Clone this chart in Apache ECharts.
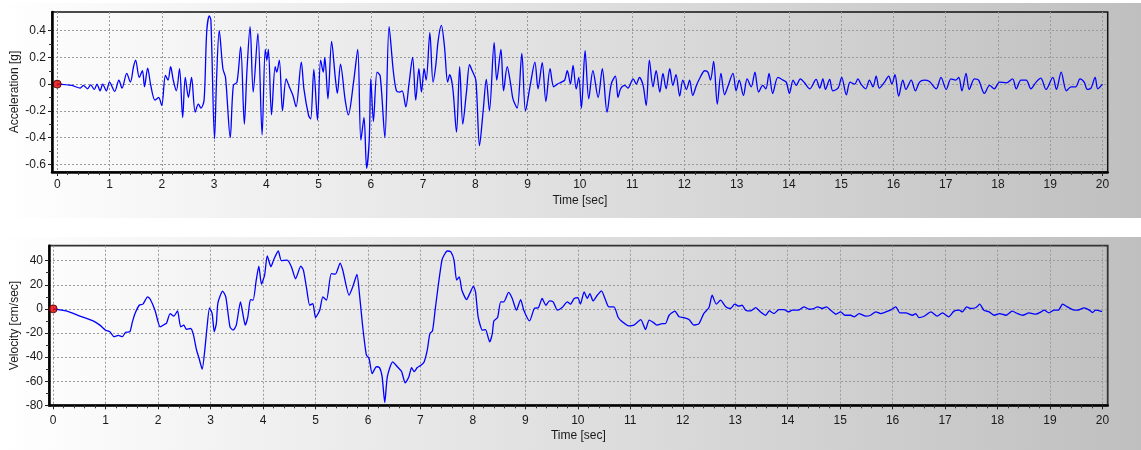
<!DOCTYPE html>
<html>
<head>
<meta charset="utf-8">
<script src="https://cdn.jsdelivr.net/npm/echarts@6/dist/echarts.min.js"></script>
<style>
html,body{margin:0;padding:0;background:#fff;}
#chart{width:1141px;height:450px;}
</style>
</head>
<body>
<div id="chart"></div>
<script>
// ---------- DATA ----------
const timeTicks = [0,1,2,3,4,5,6,7,8,9,10,11,12,13,14,15,16,17,18,19,20];
const accTicks = [-0.6,-0.4,-0.2,0,0.2,0.4];
const velTicks = [-80,-60,-40,-20,0,20,40];

const accTime = [0,0.28,0.44,0.50,0.58,0.64,0.71,0.76,0.82,0.87,0.94,1.00,1.10,1.18,1.24,1.33,1.40,1.46,1.50,1.57,1.63,1.67,1.73,1.79,1.87,1.94,2.00,2.07,2.12,2.17,2.22,2.28,2.34,2.40,2.45,2.51,2.57,2.64,2.70,2.75,2.81,2.86,2.91,2.94,3.01,3.05,3.10,3.17,3.22,3.31,3.37,3.44,3.51,3.58,3.63,3.69,3.75,3.84,3.92,3.98,4.01,4.04,4.10,4.17,4.20,4.25,4.31,4.38,4.44,4.51,4.57,4.67,4.72,4.81,4.85,4.91,4.98,5.04,5.09,5.12,5.18,5.25,5.32,5.36,5.42,5.51,5.57,5.67,5.75,5.81,5.87,5.92,5.97,6.00,6.05,6.12,6.18,6.27,6.35,6.43,6.49,6.55,6.60,6.67,6.73,6.80,6.86,6.92,6.97,7.02,7.06,7.13,7.19,7.24,7.29,7.35,7.41,7.47,7.51,7.57,7.64,7.70,7.76,7.83,7.89,7.94,8.01,8.08,8.15,8.21,8.27,8.36,8.41,8.49,8.54,8.61,8.68,8.72,8.80,8.89,8.96,9.05,9.14,9.20,9.28,9.35,9.43,9.50,9.57,9.65,9.71,9.76,9.82,9.87,9.93,9.98,10.03,10.10,10.17,10.25,10.35,10.43,10.52,10.60,10.68,10.73,10.78,10.86,10.92,11.02,11.08,11.14,11.21,11.27,11.33,11.40,11.46,11.53,11.59,11.65,11.72,11.78,11.84,11.91,11.97,12.04,12.10,12.16,12.23,12.29,12.39,12.45,12.50,12.56,12.63,12.70,12.77,12.83,12.93,12.99,13.05,13.13,13.20,13.28,13.35,13.42,13.50,13.56,13.62,13.69,13.79,13.89,13.95,14.01,14.08,14.14,14.22,14.30,14.40,14.52,14.59,14.65,14.70,14.78,14.84,14.94,15.01,15.10,15.17,15.26,15.32,15.38,15.47,15.54,15.61,15.67,15.73,15.83,15.91,15.97,16.03,16.10,16.18,16.24,16.34,16.42,16.50,16.59,16.69,16.82,16.91,17.01,17.10,17.19,17.25,17.31,17.39,17.45,17.55,17.63,17.74,17.84,17.93,18.03,18.16,18.28,18.35,18.44,18.54,18.63,18.73,18.82,18.92,19.05,19.12,19.21,19.31,19.40,19.49,19.57,19.65,19.71,19.78,19.86,19.91,20.0];
const accValue = [0,-0.01,-0.03,-0.01,-0.035,-0.005,-0.04,0.0,-0.05,0.0,-0.05,0.015,-0.055,0.03,-0.03,0.08,0.015,0.13,0.18,0.05,0.10,-0.02,0.12,-0.01,-0.12,-0.10,-0.16,0.065,0.03,0.13,0.03,-0.05,0.115,-0.25,0.05,-0.10,0.05,-0.21,-0.15,-0.18,-0.12,0.39,0.51,0.48,-0.41,0.05,0.40,0.115,0.05,-0.40,-0.01,0.015,0.28,-0.30,0.10,0.43,-0.06,0.38,-0.38,0.26,0.18,0.26,-0.23,0.13,0.09,0.18,-0.20,0.04,-0.02,-0.085,-0.17,0.165,-0.035,-0.235,-0.26,0.11,-0.27,0.18,0.09,0.20,-0.11,0.32,0.05,-0.07,0.15,-0.12,-0.23,0.015,0.26,-0.42,-0.25,-0.63,-0.42,0.04,-0.28,0.09,0.06,-0.40,0.43,0.10,-0.05,-0.06,-0.05,-0.17,0.0,0.20,-0.12,0.115,-0.06,0.115,0.03,0.385,0.015,0.13,0.33,0.44,0.28,0.015,0.07,-0.035,-0.36,0.13,-0.30,-0.06,0.145,0.10,0.03,-0.46,-0.20,0.035,-0.20,0.31,0.03,0.26,-0.05,0.13,-0.01,-0.11,-0.18,0.23,-0.20,-0.01,0.165,-0.035,0.16,-0.13,0.115,-0.02,0.0,0.015,0.03,0.10,0.0,0.14,-0.035,0.05,-0.18,0.25,-0.11,0.10,-0.10,0.115,-0.21,0.0,0.06,-0.10,-0.035,-0.01,-0.03,0.04,0.0,0.05,-0.01,-0.16,0.18,-0.02,0.10,-0.06,0.08,-0.035,0.115,-0.01,0.07,-0.09,0.03,-0.04,0.03,-0.085,-0.01,0.04,0.10,0.09,0.03,0.17,-0.15,0.08,-0.08,-0.02,0.08,-0.05,0.03,-0.085,0.04,-0.02,0.09,-0.06,-0.01,-0.035,0.08,-0.07,0.05,0.03,0.015,-0.07,0.03,-0.01,0.04,0.01,-0.035,0.035,-0.03,0.04,-0.04,0.035,-0.05,-0.03,0.05,-0.08,0.015,0.0,0.04,0.0,-0.035,0.03,-0.02,0.06,-0.03,0.015,0.06,0.0,0.07,-0.09,0.03,-0.04,0.03,-0.05,0.015,0.03,0.02,-0.035,0.05,-0.04,0.04,0.03,0.05,-0.05,0.08,-0.04,0.04,0.03,-0.07,-0.01,-0.035,0.015,0.01,0.04,-0.035,0.03,0.03,-0.035,0.015,0.045,-0.04,0.05,-0.04,0.09,-0.05,-0.02,-0.02,0.04,0.015,-0.04,-0.03,0.05,-0.035,0.0];

const velTime = [0,0.25,0.51,0.76,0.89,1.0,1.08,1.16,1.24,1.32,1.38,1.46,1.51,1.56,1.64,1.71,1.80,1.85,1.94,2.04,2.13,2.16,2.23,2.30,2.37,2.43,2.49,2.54,2.62,2.67,2.73,2.78,2.84,2.89,2.93,2.98,3.03,3.07,3.11,3.14,3.23,3.29,3.37,3.43,3.49,3.57,3.62,3.66,3.71,3.76,3.81,3.87,3.92,3.97,4.03,4.08,4.15,4.20,4.29,4.35,4.46,4.54,4.62,4.72,4.77,4.83,4.89,4.95,5.0,5.08,5.14,5.21,5.30,5.38,5.47,5.52,5.64,5.71,5.79,5.84,5.90,5.97,6.02,6.08,6.16,6.22,6.27,6.32,6.37,6.47,6.56,6.64,6.71,6.78,6.83,6.88,6.94,7.01,7.07,7.13,7.18,7.23,7.28,7.34,7.41,7.45,7.51,7.58,7.64,7.69,7.74,7.79,7.88,7.94,8.01,8.05,8.10,8.18,8.24,8.32,8.37,8.40,8.47,8.53,8.59,8.68,8.75,8.83,8.91,8.97,9.08,9.17,9.25,9.32,9.39,9.46,9.53,9.61,9.70,9.80,9.86,9.93,10.0,10.05,10.12,10.18,10.23,10.29,10.37,10.45,10.53,10.59,10.69,10.77,10.85,10.97,11.07,11.20,11.29,11.36,11.45,11.51,11.61,11.67,11.74,11.85,11.93,12.02,12.12,12.21,12.31,12.40,12.50,12.56,12.64,12.72,12.82,12.91,12.99,13.07,13.13,13.20,13.29,13.39,13.48,13.58,13.65,13.74,13.83,13.93,14.01,14.09,14.2,14.31,14.41,14.50,14.57,14.66,14.74,14.82,14.92,15.01,15.09,15.2,15.27,15.36,15.49,15.58,15.68,15.77,15.87,15.96,16.06,16.14,16.25,16.38,16.44,16.5,16.6,16.73,16.85,16.95,17.07,17.17,17.27,17.33,17.41,17.49,17.59,17.66,17.74,17.84,17.94,18.04,18.16,18.28,18.38,18.48,18.6,18.73,18.83,18.89,18.98,19.08,19.16,19.24,19.33,19.43,19.52,19.65,19.75,19.81,19.87,19.99];
const velValue = [0,-1.7,-6,-10,-13.5,-17.7,-19,-23,-22,-23,-19.4,-19,-10.8,-3.9,3,3.9,10,8,-1.1,-15,-12.7,-12,-3.9,-6,-1.7,-15,-13.5,-17,-16.3,-21,-33.7,-41,-50,-34,-16.3,0.8,-3.9,-19,-12,5,14.7,10,-15,-17.7,-13.5,5.8,-5.3,-13.5,-6.6,7.7,7.2,23.8,35.4,20.5,28,44,35,40.4,48,40,40.4,35,25,35.4,32,17,3,4.4,-7.2,-1.1,10,7.2,29.3,28.8,38,32,11.3,18.3,28.5,11.3,-15,-38.4,-41,-53.7,-48,-48.7,-56.4,-77.7,-56,-44,-48,-52,-61.4,-56.4,-48.7,-52,-48.7,-46.7,-44,-34.3,-20.5,-18.3,-1.1,19.6,40.4,44.5,48,47.3,40.4,23.8,26.6,15.5,7.7,12.7,18.8,14.1,-6.6,-17.7,-17.2,-27.4,-20.5,-10,-7.2,5.8,5.8,13.6,8.6,-1.1,7.7,-1.1,-10,0.3,1.1,8.6,3,6.6,5.8,-1.1,1.1,5.8,3.9,8.6,9.4,3.9,14.1,8.6,12.7,6.6,11.3,15,7.2,1.7,1.7,-7.2,-10.8,-14.1,-13.5,-8.9,-17.2,-9.4,-11.6,-13.5,-12.2,-12.2,-5.3,-1.9,-6.6,-7.2,-8.9,-13.5,-12.2,-3.9,1.1,11.3,3.9,7.2,1.7,0.3,3.9,2.2,3,-1.1,-1.7,1.1,-2.5,-5.3,-1.7,-3.9,-0.6,-0.6,-2.5,-1.1,-1.1,1.7,-0.3,0.3,1.7,0.3,1.7,-1.1,-4.4,-2.5,-5.3,-5.3,-6.6,-3.9,-6.1,-5.3,-2.5,-3.9,-2.5,-1.1,1.7,-3.3,-3.3,-5.3,-3.9,-7.2,-6.1,-2.5,-6.1,-3.3,-6.6,-1.9,-1.1,-2.5,1.7,0.3,1.1,3.9,-1.1,-2.5,-5.3,-3.9,-5.3,-1.9,-3.9,-5.3,-3.3,-4.4,-2.5,-1.1,-3.3,-1.1,-1.1,3.9,1.7,-0.6,-1.1,0.8,-1.1,-3,-1.1,-2.2];

// ---------- helpers ----------
function pairs(xs, ys){ return xs.map((x,i)=>[x, ys[i]]); }
function subdivide(ticks, n){
  const out=[];
  for(let i=0;i<ticks.length-1;i++){
    const a=ticks[i], b=ticks[i+1];
    for(let k=1;k<n;k++) out.push(+(a+(b-a)*k/n).toFixed(6));
  }
  return out;
}
const FONT = "'Liberation Sans', Arial, sans-serif";
const TXT = '#1a1a1a';
const gridLine = {show:true, lineStyle:{color:'#9a9a9a', width:1, type:[2,2]}};

function mainX(gridIndex, min, max, margin, nameGap){
  return {
    type:'value', gridIndex, min, max, position:'bottom',
    name:'Time [sec]', nameLocation:'middle', nameGap, nameMoveOverlap:false,
    nameTextStyle:{fontFamily:FONT, fontSize:12, color:TXT},
    axisLine:{show:true, onZero:false, lineStyle:{color:'#000', width:2.5}},
    axisTick:{show:true, length:4, customValues:timeTicks, lineStyle:{color:'#222', width:1}},
    axisLabel:{customValues:timeTicks, margin, fontFamily:FONT, fontSize:12, color:TXT,
      formatter:v=>String(Math.round(v))},
    splitLine:gridLine
  };
}
function minorX(gridIndex, min, max){
  return {
    type:'value', gridIndex, min, max, position:'bottom',
    axisLine:{show:false, onZero:false},
    axisTick:{show:true, length:3, customValues:subdivide(timeTicks,5), lineStyle:{color:'#333', width:1}},
    axisLabel:{show:false}, splitLine:{show:false}
  };
}
function mainY(gridIndex, min, max, ticks, name, nameGap, fmt){
  return {
    type:'value', gridIndex, min, max, position:'left',
    name, nameLocation:'middle', nameGap, nameMoveOverlap:false,
    nameTextStyle:{fontFamily:FONT, fontSize:12, color:TXT},
    axisLine:{show:true, onZero:false, lineStyle:{color:'#000', width:2.5}},
    axisTick:{show:true, length:4, customValues:ticks, lineStyle:{color:'#222', width:1}},
    axisLabel:{customValues:ticks, margin:6, fontFamily:FONT, fontSize:12, color:TXT, formatter:fmt},
    splitLine:gridLine
  };
}
function minorY(gridIndex, min, max, ticks){
  return {
    type:'value', gridIndex, min, max, position:'left',
    axisLine:{show:false, onZero:false},
    axisTick:{show:true, length:3, customValues:subdivide(ticks,2), lineStyle:{color:'#333', width:1}},
    axisLabel:{show:false}, splitLine:{show:false}
  };
}

const panelGrad = () => new echarts.graphic.LinearGradient(0,0,1,0,[
  {offset:0, color:'#ffffff'},{offset:1, color:'#bfbfbf'}]);

const chart = echarts.init(document.getElementById('chart'), null, {renderer:'canvas'});
chart.setOption({
  animation:false,
  backgroundColor:'#ffffff',
  graphic:[
    {type:'rect', z:-100, silent:true, shape:{x:0,y:3,width:1141,height:215}, style:{fill:panelGrad()}},
    {type:'rect', z:-100, silent:true, shape:{x:0,y:237,width:1141,height:213}, style:{fill:panelGrad()}}
  ],
  grid:[
    {left:52, top:12, width:1055.7, height:160, show:true, borderColor:'#111', borderWidth:1.5,
     backgroundColor:'transparent', outerBoundsMode:'none', containLabel:false},
    {left:49, top:245.7, width:1058.7, height:159.6, show:true, borderColor:'#333', borderWidth:1.8,
     backgroundColor:'transparent', outerBoundsMode:'none', containLabel:false}
  ],
  xAxis:[
    mainX(0, -0.1, 20.1, 7, 23),
    minorX(0, -0.1, 20.1),
    mainX(1, -0.08, 20.1, 9, 24),
    minorX(1, -0.08, 20.1)
  ],
  yAxis:[
    mainY(0, -0.658, 0.54, accTicks, 'Acceleration [g]', 31, v=>String(Math.round(v*10)/10)),
    minorY(0, -0.658, 0.54, accTicks),
    mainY(1, -80, 52.4, velTicks, 'Velocity [cm/sec]', 28, v=>String(Math.round(v))),
    minorY(1, -80, 52.4, velTicks)
  ],
  series:[
    {type:'line', xAxisIndex:0, yAxisIndex:0, data:pairs(accTime, accValue), showSymbol:false,
     smooth:0.3, lineStyle:{color:'#0000ff', width:1.3}, z:3},
    {type:'line', xAxisIndex:2, yAxisIndex:2, data:pairs(velTime, velValue), showSymbol:false,
     smooth:0.2, lineStyle:{color:'#0000ff', width:1.3}, z:3},
    {type:'scatter', xAxisIndex:0, yAxisIndex:0, data:[[accTime[0], accValue[0]]], symbolSize:8,
     itemStyle:{color:'#e00000', borderColor:'#400000', borderWidth:1}, z:5},
    {type:'scatter', xAxisIndex:2, yAxisIndex:2, data:[[velTime[0], velValue[0]]], symbolSize:8,
     itemStyle:{color:'#e00000', borderColor:'#400000', borderWidth:1}, z:5}
  ]
});
</script>
</body>
</html>
